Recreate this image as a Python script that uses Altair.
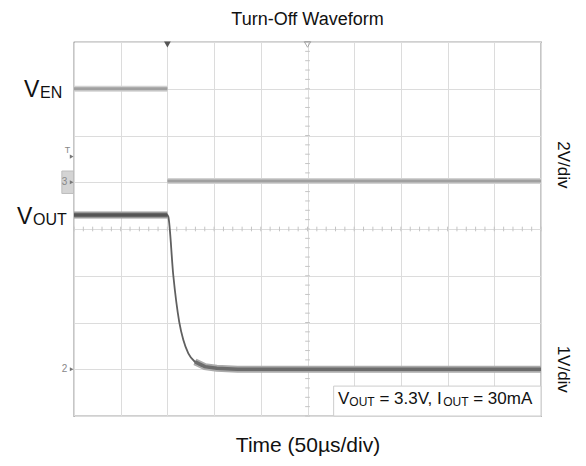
import altair as alt
import pandas as pd

FONT = "Liberation Sans"

# Scope settings: 10 horizontal divisions of 50 µs, 8 vertical divisions (0 = screen centre)
T_DIV = 50
EN_VDIV, EN_GND = 2.0, 1.0      # channel 3 (EN): 2 V/div, ground marker +1 div
OUT_VDIV, OUT_GND = 1.0, -3.0   # channel 2 (VOUT): 1 V/div, ground marker -3 div

# EN waveform (V): high before the trigger, low after it
en_t_high = [0, 100]
en_v_high = [4.0, 4.0]
en_t_low = [100, 500]
en_v_low = [0.05, 0.05]

# VOUT waveform (V) during turn-off discharge
out_t = [0, 100, 101.0, 106.3, 112.7, 117.0, 122.4, 129.5, 140.2, 152.8, 175, 500]
out_v = [3.3, 3.3, 3.26, 2.01, 1.01, 0.63, 0.34, 0.16, 0.055, 0.02, 0.0, 0.0]


def to_div(volts, vdiv, gnd):
    return [v / vdiv + gnd for v in volts]


en_high = pd.DataFrame({"t": en_t_high, "y": to_div(en_v_high, EN_VDIV, EN_GND)})
en_low = pd.DataFrame({"t": en_t_low, "y": to_div(en_v_low, EN_VDIV, EN_GND)})
vout = pd.DataFrame({"t": out_t, "y": to_div(out_v, OUT_VDIV, OUT_GND)})
vout_high = vout[vout["t"] <= 100]
vout_tail = vout[vout["t"] >= 129.5]

xs = alt.Scale(domain=[0, 10 * T_DIV], nice=False, zero=False)
ys = alt.Scale(domain=[-4, 4], nice=False, zero=False)
GRID = "#dcdcdc"
xaxis = alt.Axis(values=list(range(0, 501, T_DIV)), grid=True, gridColor=GRID, gridWidth=1,
                 labels=False, ticks=False, domain=False, title="Time (50µs/div)",
                 titleFont=FONT, titleFontSize=21, titleFontWeight="normal",
                 titleColor="#111", titlePadding=18)
yaxis = alt.Axis(values=list(range(-4, 5)), grid=True, gridColor=GRID, gridWidth=1,
                 labels=False, ticks=False, domain=False, title=None)


def X():
    return alt.X("t:Q", scale=xs, axis=xaxis)


def Y():
    return alt.Y("y:Q", scale=ys, axis=yaxis)


def base(df):
    return alt.Chart(df)


# graticule minor ticks on the centre cross
hticks = pd.DataFrame({"t": [i * 10 for i in range(51)]})
hticks["y"] = -0.05
hticks["y2"] = 0.05
vticks = pd.DataFrame({"y": [i * 0.2 - 4 for i in range(41)]})
vticks["t"] = 247.5
vticks["t2"] = 252.5

layers = []
layers.append(base(hticks).mark_rule(color="#c4c4c4", strokeWidth=1).encode(
    x=X(), y=Y(), y2="y2:Q"))
layers.append(base(vticks).mark_rule(color="#c4c4c4", strokeWidth=1).encode(
    x=X(), x2="t2:Q", y=Y()))

# EN trace
for d in (en_high, en_low):
    layers.append(base(d).mark_line(color="#d2d2d2", strokeWidth=6).encode(x=X(), y=Y()))
    layers.append(base(d).mark_line(color="#a0a0a0", strokeWidth=3).encode(x=X(), y=Y()))

# VOUT trace: bands on flat portions, thin line through the edge
layers.append(base(vout_high).mark_line(color="#9a9a9a", strokeWidth=7).encode(x=X(), y=Y()))
layers.append(base(vout_tail).mark_line(color="#ababab", strokeWidth=7).encode(x=X(), y=Y()))
layers.append(base(vout).mark_line(color="#606060", strokeWidth=1.8, interpolate="monotone").encode(
    x=X(), y=Y()))
layers.append(base(vout_high).mark_line(color="#555555", strokeWidth=3.5).encode(x=X(), y=Y()))
layers.append(base(vout_tail).mark_line(color="#6c6c6c", strokeWidth=3.5).encode(x=X(), y=Y()))

# trigger position and screen-centre markers on the top edge
trig = pd.DataFrame({"t": [100], "y": [4]})
centre = pd.DataFrame({"t": [250], "y": [4]})
layers.append(base(trig).mark_point(shape="triangle-down", filled=True, color="#555555",
                                    size=45, yOffset=2.5, opacity=1).encode(x=X(), y=Y()))
layers.append(base(centre).mark_point(shape="triangle-down", filled=False, color="#888888",
                                      size=40, yOffset=2.5, strokeWidth=1).encode(x=X(), y=Y()))

# left-edge channel markers
gnd_box = pd.DataFrame({"t": [-13], "t2": [-0.5], "y": [EN_GND - 0.24], "y2": [EN_GND + 0.24]})
layers.append(base(gnd_box).mark_rect(fill="#d4d4d4", stroke="#bdbdbd", strokeWidth=1).encode(
    x=X(), x2="t2:Q", y=Y(), y2="y2:Q"))
marks_df = pd.DataFrame({"t": [-2.5, -2.5, -2.5], "y": [EN_GND, OUT_GND, 1.55]})
layers.append(base(marks_df).mark_point(shape="triangle-right", filled=True, color="#777777",
                                        size=18, opacity=1).encode(x=X(), y=Y()))
ch_lbl = pd.DataFrame({"t": [-3, -3, -3], "y": [EN_GND, OUT_GND, 1.55],
                       "txt": ["3", "2", "T"]})
layers.append(base(ch_lbl[ch_lbl["txt"] != "T"]).mark_text(
    font=FONT, fontSize=10, color="#888888", align="right", baseline="middle", dx=-4).encode(
    x=X(), y=Y(), text="txt:N"))
layers.append(base(ch_lbl[ch_lbl["txt"] == "T"]).mark_text(
    font=FONT, fontSize=9, color="#888888", align="right", baseline="middle", dx=-1, dy=-7).encode(
    x=X(), y=Y(), text="txt:N"))


def label(t, y, txt, size, dx, dy, align="left", angle=0, baseline="alphabetic"):
    df = pd.DataFrame({"t": [t], "y": [y], "txt": [txt]})
    return base(df).mark_text(font=FONT, fontSize=size, color="#111111", align=align,
                              baseline=baseline, dx=dx, dy=dy, angle=angle).encode(
        x=X(), y=Y(), text="txt:N")


en_y = en_high["y"].iloc[0]
out_y = vout_high["y"].iloc[0]
# channel names
layers.append(label(0, en_y, "V", 23, -50, 8))
layers.append(label(0, en_y, "EN", 16, -34, 9))
layers.append(label(0, out_y, "V", 23, -57, 9))
layers.append(label(0, out_y, "OUT", 16, -41, 10))
# vertical scale labels (rotated: dy moves them to the right of the frame)
layers.append(label(500, 1.37, "2V/div", 17, 0, -22, align="center", angle=90, baseline="middle"))
layers.append(label(500, -3.0, "1V/div", 17, 0, -22, align="center", angle=90, baseline="middle"))

# test condition box
box = pd.DataFrame({"t": [278], "t2": [500], "y": [-4], "y2": [-3.36]})
layers.append(base(box).mark_rect(fill="white", stroke="#cccccc", strokeWidth=1).encode(
    x=X(), x2="t2:Q", y=Y(), y2="y2:Q"))
S = -203
ay = -3.74
layers.append(label(500, ay, "V", 17, S, 0))
layers.append(label(500, ay, "OUT", 12, S + 11.3, 2))
layers.append(label(500, ay, "= 3.3V, I", 17, S + 41.4, 0))
layers.append(label(500, ay, "OUT", 12, S + 105.2, 2))
layers.append(label(500, ay, "= 30mA", 17, S + 135.2, 0))

chart = alt.layer(*layers).properties(
    width=467, height=374,
    padding={"left": 74, "top": 42, "right": 45, "bottom": 50},
    autosize=alt.AutoSizeParams(type="none"),
    title=alt.TitleParams("Turn-Off Waveform", font=FONT, fontSize=18, fontWeight="normal",
                          color="#111111", offset=11, anchor="middle"),
).configure_view(stroke="#444444", strokeWidth=1.2)

chart.save("out.html", embed_options={"renderer": "svg", "actions": False})
